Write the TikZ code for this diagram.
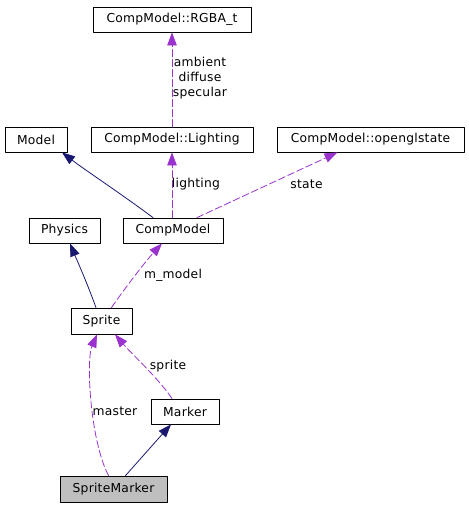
\documentclass[tikz,border=0pt]{standalone}
\usepackage{fontspec}
\setmainfont{DejaVu Sans}[LetterSpace=2]
\usetikzlibrary{arrows.meta}
\definecolor{edgeblue}{HTML}{191970}
\definecolor{edgeviolet}{HTML}{9A32CD}
\definecolor{focusgray}{HTML}{BFBFBF}
\begin{document}
\begin{tikzpicture}[x=1pt,y=-1pt,line cap=round,line join=round,
    font=\fontsize{12.3}{15}\selectfont,
    cls/.style={draw,line width=0.8pt,inner sep=0pt,minimum height=25pt},
    inherit/.style={draw=edgeblue,line width=0.8pt,-{Triangle[length=13pt,width=9.5pt]}},
    usage/.style={draw=edgeviolet,line width=0.8pt,dash pattern=on 7pt off 3pt,-{Triangle[length=13pt,width=9.5pt]}},
    lbl/.style={inner sep=1pt}]
  \useasboundingbox (0,0) rectangle (469,507);
  % classes
  \node[cls,minimum width=158pt] (rgba) at (172,19.5) {CompModel::RGBA\_t};
  \node[cls,minimum width=62pt] (model) at (36,139.5) {Model};
  \node[cls,minimum width=162pt] (lighting) at (172,139.5) {CompModel::Lighting};
  \node[cls,minimum width=187pt] (glstate) at (370.5,139.5) {CompModel::openglstate};
  \node[cls,minimum width=71pt] (physics) at (64.5,230.5) {Physics};
  \node[cls,minimum width=100pt] (comp) at (173,230.5) {CompModel};
  \node[cls,minimum width=61pt,minimum height=26pt] (sprite) at (101.5,321) {Sprite};
  \node[cls,minimum width=68pt] (marker) at (185,411.5) {Marker};
  \node[cls,minimum width=107pt,minimum height=26pt,fill=focusgray] (smarker) at (113.5,489) {SpriteMarker};
  % relations
  \draw[usage] (lighting.north) -- (rgba.south);
  \node[lbl,align=center] at (200,78) {ambient\\diffuse\\specular};
  \draw[inherit] ([xshift=-20pt]comp.north) .. controls (120,193) and (85,170) .. ([xshift=26pt]model.south);
  \draw[usage] (comp.north -| lighting.south) -- (lighting.south);
  \node[lbl] at (196,184) {lighting};
  \draw[usage] ([xshift=24pt]comp.north) -- ([xshift=-33pt]glstate.south);
  \node[lbl] at (306.5,184) {state};
  \draw[inherit] ([xshift=-5.5pt]sprite.north) .. controls (86,280) and (76,258) .. ([xshift=5.5pt]physics.south);
  \draw[usage] ([xshift=10pt]sprite.north) .. controls (125,288) and (145,262) .. ([xshift=-11pt]comp.south);
  \node[lbl] at (173,275) {m\_model};
  \draw[usage] ([xshift=-5pt]smarker.north) .. controls (90,440) and (86,360) .. ([xshift=-4.5pt]sprite.south);
  \node[lbl] at (115,411) {master};
  \draw[usage] ([xshift=-13pt]marker.north) .. controls (160,380) and (130,352) .. ([xshift=13.5pt]sprite.south);
  \node[lbl] at (168,366) {sprite};
  \draw[inherit] ([xshift=12pt]smarker.north) -- ([xshift=-14pt]marker.south);
\end{tikzpicture}
\end{document}
